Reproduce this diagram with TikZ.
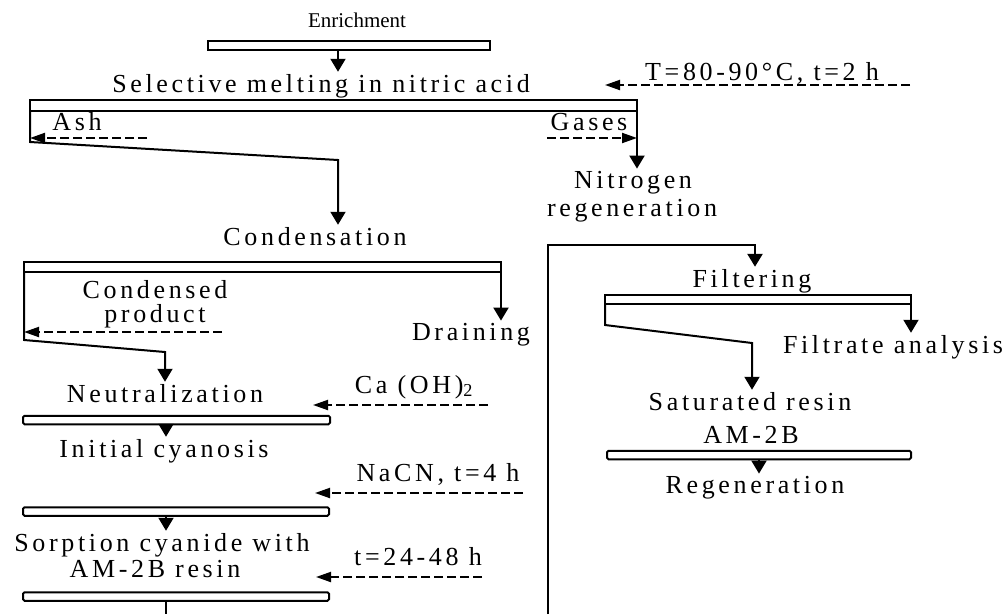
\documentclass[tikz,border=0pt]{standalone}
\usepackage{fontspec}
\setmainfont{Liberation Serif}
\newfontfamily\spaced[LetterSpace=14]{Liberation Serif}
\usepackage{tikz}
\usetikzlibrary{arrows.meta}

\begin{document}
\begin{tikzpicture}[x=1pt,y=-1pt]
	\tikzstyle{T} = [font={\fontsize{26}{30}\spaced},inner sep=2pt,anchor=base]
	\tikzstyle{bar} = [draw,line width=2pt,inner sep=0pt,outer sep=0pt,minimum height=10pt]
	\tikzstyle{rbar} = [bar,rounded corners=1.5pt,minimum height=8.5pt]
	\tikzstyle{arr} = [-{Triangle[width=15pt,length=13pt]},line width=2pt]
	\tikzstyle{darr} = [-{Triangle[width=10pt,length=15pt]},line width=2pt,dash pattern=on 9pt off 4pt]
	\useasboundingbox (0,0) rectangle (1006,614);
	% left column
	\node[font={\fontsize{21}{24}\selectfont},inner sep=2pt,anchor=base](enr) at (357,27) {Enrichment};
	\node[bar,minimum width=282pt,minimum height=9pt](b0) at (349,45.5) {};
	\node[T](sel) at (321,92) {Selective melting in nitric acid};
	\node[T](tlab) at (762,80) {T=80-90°C, t=2 h};
	\node[bar,minimum width=607pt,minimum height=11pt](b1) at (333.5,105.5) {};
	\node[T](ash) at (77,130) {Ash};
	\node[T](gas) at (589,130) {Gases};
	\node[T](nitro) at (633,188) {Nitrogen};
	\node[T](nitro2) at (632,216) {regeneration};
	\node[T](cond) at (315,245) {Condensation};
	\node[bar,minimum width=477pt](b2) at (262.5,267) {};
	\node[T](cnd1) at (155,298) {Condensed};
	\node[T](cnd2) at (155,322) {product};
	\node[T](drain) at (471,340) {Draining};
	\node[T](neut) at (165,402) {Neutralization};
	\node[T](ca) at (414,393) {Ca (OH)\textsubscript{2}};
	\node[rbar,minimum width=307pt](b3) at (176.5,420) {};
	\node[T](init) at (164,457) {Initial cyanosis};
	\node[T](nacn) at (438,481) {NaCN, t=4 h};
	\node[rbar,minimum width=306pt](b4) at (176,511.5) {};
	\node[T](sorp) at (162,551) {Sorption cyanide with};
	\node[T](sorp2) at (155,577) {AM-2B resin};
	\node[T](t24) at (418,565) {t=24-48 h};
	\node[rbar,minimum width=306pt](b5) at (176,596.5) {};
	% right column
	\node[T](filt) at (752,287) {Filtering};
	\node[bar,minimum width=306pt,minimum height=9pt](b6) at (758,299.5) {};
	\node[T](filtr) at (893,353) {Filtrate analysis};
	\node[T](sat) at (750,410) {Saturated resin};
	\node[T](sat2) at (751,443) {AM-2B};
	\node[rbar,minimum width=304pt](b7) at (759,455) {};
	\node[T](regen) at (755,493) {Regeneration};
	% bends and loose ends
	\coordinate (k1) at (338,160);
	\coordinate (k2) at (165,352);
	\coordinate (k5) at (755,245);
	\coordinate (k6) at (752,343);
	\coordinate (lc) at (166,0);
	\coordinate (bot) at (548,614);
	\coordinate (a0) at (147,138);
	\coordinate (g0) at (547,138);
	\coordinate (t0) at (910,85);
	\coordinate (t1) at (605,85);
	\coordinate (p0) at (222,332);
	\coordinate (c0) at (488,405);
	\coordinate (c1) at (313,405);
	\coordinate (n0) at (523,493);
	\coordinate (n1) at (315,493);
	\coordinate (h0) at (482,577);
	\coordinate (h1) at (316,577);
	% solid flows
	\draw[arr](b0.south -| k1) -- (k1 |- sel.north);
	\draw[arr](b1.south west) -- ++(0,31) -- (k1) -- (k1 |- cond.north);
	\draw[arr](b1.south east) -- (b1.south east |- nitro.north);
	\draw[arr](b2.south east) -- (b2.south east |- drain.north);
	\draw[arr](b2.south west) -- ++(0,68) -- (k2) -- (k2 |- neut.north);
	\draw[arr](b3.south -| lc) -- (lc |- init.north);
	\draw[arr](b4.south -| lc) -- (lc |- sorp.north);
	\draw[line width=2pt](b5.south -| lc) -- (lc |- bot);
	\draw[arr,line width=2.6pt](bot) |- (k5) -- (k5 |- filt.north);
	\draw[arr](b6.south east) -- (b6.south east |- filtr.north);
	\draw[arr](b6.south west) -- ++(0,21) -- (k6) -- (k6 |- sat.north);
	\draw[arr](b7.south) -- (b7.south |- regen.north);
	% dashed inputs and outputs
	\draw[darr](t0) -- (t1);
	\draw[darr](a0) -- (a0 -| b1.west);
	\draw[darr](g0) -- (g0 -| b1.east);
	\draw[darr](p0) -- (p0 -| b2.west);
	\draw[darr](c0) -- (c1);
	\draw[darr](n0) -- (n1);
	\draw[darr](h0) -- (h1);
\end{tikzpicture}
\end{document}
